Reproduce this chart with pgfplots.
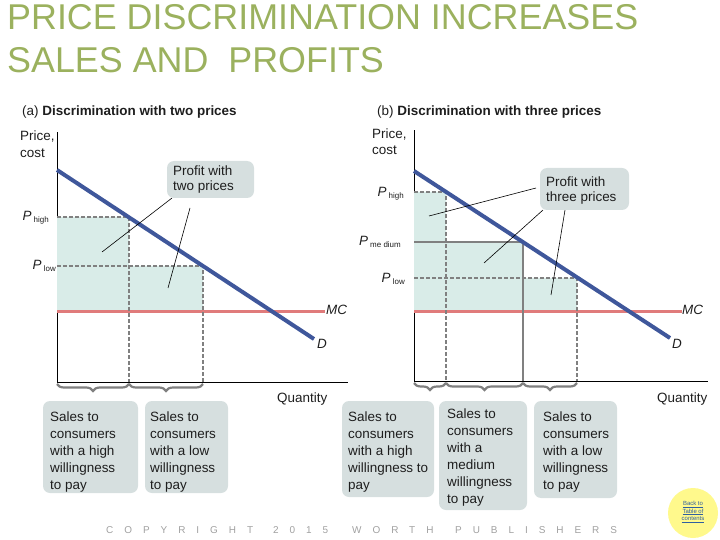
\documentclass[border=0pt]{standalone}
\usepackage{pgfplots}
\pgfplotsset{compat=1.18}
\usepackage{fontspec}
\setmainfont{Liberation Sans}
\usetikzlibrary{decorations.pathreplacing}
\definecolor{dcol}{HTML}{3F579B}
\definecolor{mccol}{HTML}{E07B7B}
\definecolor{fillcol}{HTML}{D9ECE8}
\definecolor{boxcol}{HTML}{D6DFDF}
\definecolor{gcol}{HTML}{808080}
\definecolor{titlecol}{HTML}{9BB15E}
\definecolor{txt}{HTML}{1E1E1E}
\definecolor{foot}{HTML}{A0A0A0}
\definecolor{linkcol}{HTML}{2F5FA0}
\newcommand{\sub}[1]{\raisebox{-1.5bp}{\fontsize{8}{8}\selectfont #1}}
\newcommand{\Pl}[1]{\textit{P}\,\sub{#1}}
\newcommand{\lines}[4]{% x, first baseline (px), pitch, list
  \foreach \t [count=\i from 0] in {#4} {
    \node[lbl] at (#1, -#2-#3*\i) {\t};
  }%
}
\begin{document}
\begin{tikzpicture}[x=1bp,y=1bp,
  lbl/.style={anchor=base west, inner sep=0, text=txt, font=\fontsize{13.5}{17}\selectfont},
  brc/.style={gcol, line width=2.2bp, decorate, decoration={brace, mirror, amplitude=7bp, raise=1bp}},
  ldr/.style={black, line width=0.6bp},
  dsh/.style={gcol, line width=1.6bp, dash pattern=on 4bp off 2bp},
  sol/.style={gcol, line width=1.6bp},
  ]
\path[use as bounding box] (0,0) rectangle (720,-540);
% title
\node[anchor=base west, inner sep=0, text=titlecol, font=\fontsize{36}{43}\selectfont] at (7,-30) {PRICE DISCRIMINATION INCREASES};
\node[anchor=base west, inner sep=0, text=titlecol, font=\fontsize{36}{43}\selectfont] at (7,-73) {SALES AND\ \ PROFITS};

% ---------- panel (a) ----------
\begin{axis}[at={(57,-382)}, anchor=south west, x=1bp, y=1bp,
  xmin=0, xmax=291, ymin=0, ymax=250,
  axis x line=bottom, axis y line=left,
  axis line style={-, black, line width=0.9bp},
  xtick=\empty, ytick=\empty, clip=false]
\addplot[fill=fillcol, draw=none] coordinates {(0,71)(0,165)(72,165)(72,116)(146,116)(146,71)(0,71)};
\addplot[mccol, line width=3bp] coordinates {(0,71)(268,71)};
\addplot[dsh] coordinates {(0,165)(72,165)(72,0)};
\addplot[dsh] coordinates {(0,116)(146,116)(146,0)};
\addplot[dcol, line width=4bp] coordinates {(0,212)(257,43)};
\end{axis}

% ---------- panel (b) ----------
\begin{axis}[at={(414,-381)}, anchor=south west, x=1bp, y=1bp,
  xmin=0, xmax=294, ymin=0, ymax=251,
  axis x line=bottom, axis y line=left,
  axis line style={-, black, line width=0.9bp},
  xtick=\empty, ytick=\empty, clip=false]
\addplot[fill=fillcol, draw=none] coordinates {(0,70)(0,189)(32,189)(32,139)(109,139)(109,103)(163,103)(163,70)(0,70)};
\addplot[mccol, line width=3bp] coordinates {(0,70)(268,70)};
\addplot[dsh] coordinates {(0,189)(32,189)(32,0)};
\addplot[sol] coordinates {(0,139)(109,139)(109,0)};
\addplot[dsh] coordinates {(0,103)(163,103)(163,0)};
\addplot[dcol, line width=4bp] coordinates {(0,210)(256,43)};
\end{axis}

% subtitles
\node[lbl] at (22,-116) {(a) \textbf{Discrimination with two prices}};
\node[lbl] at (377,-116) {(b) \textbf{Discrimination with three prices}};
\lines{20}{141}{17}{{Price,},cost}
\lines{372}{139}{16}{{Price,},cost}

% price labels
\node[lbl, anchor=base east] at (49,-221) {\Pl{high}};
\node[lbl, anchor=base east] at (56,-270) {\Pl{low}};
\node[lbl, anchor=base east] at (404,-197) {\Pl{high}};
\node[lbl, anchor=base east] at (401,-246) {\Pl{me dium}};
\node[lbl, anchor=base east] at (405,-283) {\Pl{low}};

% MC / D / Quantity
\node[lbl] at (326,-314) {\textit{MC}};
\node[lbl] at (682,-314) {\textit{MC}};
\node[lbl] at (317,-348) {\textit{D}};
\node[lbl] at (672,-348) {\textit{D}};
\node[lbl] at (277,-402) {Quantity};
\node[lbl] at (657,-402) {Quantity};

% braces
\draw[brc] (57,-383) -- (129,-383);
\draw[brc] (129,-383) -- (203,-383);
\draw[brc] (414,-382) -- (446,-382);
\draw[brc] (446,-382) -- (523,-382);
\draw[brc] (523,-382) -- (577,-382);

% leader lines
\draw[ldr] (172,-198) -- (102,-252);
\draw[ldr] (190,-208) -- (168,-288);
\draw[ldr] (536,-188) -- (429,-216);
\draw[ldr] (543,-210) -- (484,-263);
\draw[ldr] (565,-210) -- (551,-295);

% profit boxes
\fill[boxcol, rounded corners=7bp] (167,-161) rectangle (254,-198);
\lines{173}{176}{15}{Profit with,two prices}
\fill[boxcol, rounded corners=7bp] (540,-168) rectangle (629,-210);
\lines{546}{187}{15}{Profit with,three prices}

% sales boxes
\fill[boxcol, rounded corners=7bp] (43,-401) rectangle (138,-493);
\lines{50}{421}{17}{Sales to,consumers,with a high,willingness,to pay}
\fill[boxcol, rounded corners=7bp] (145,-401) rectangle (228,-493);
\lines{150}{421}{17}{Sales to,consumers,with a low,willingness,to pay}
\fill[boxcol, rounded corners=7bp] (342,-401) rectangle (434,-497);
\lines{348}{421}{17}{Sales to,consumers,with a high,willingness to,pay}
\fill[boxcol, rounded corners=7bp] (439,-401) rectangle (527,-510);
\lines{447}{418}{17}{Sales to,consumers,with a,medium,willingness,to pay}
\fill[boxcol, rounded corners=7bp] (534,-401) rectangle (617,-498);
\lines{543}{421}{17}{Sales to,consumers,with a low,willingness,to pay}

% footer
\begin{scope}[every node/.style={anchor=base west, inner sep=0, text=foot, font=\fontsize{10}{10}\selectfont\addfontfeatures{LetterSpace=110}}]
\node at (106,-533) {COPYRIGHT};
\node at (273,-533) {2015};
\node at (352,-533) {WORTH};
\node at (455,-533) {PUBLISHERS};
\end{scope}

% back to contents
\fill[yellow!45] (693,-513) circle (25);
\node[align=center, inner sep=0, text=linkcol, font=\fontsize{6}{7.5}\selectfont] at (693,-512) {\underline{Back to}\\\underline{Table of}\\\underline{contents}};
\end{tikzpicture}
\end{document}
